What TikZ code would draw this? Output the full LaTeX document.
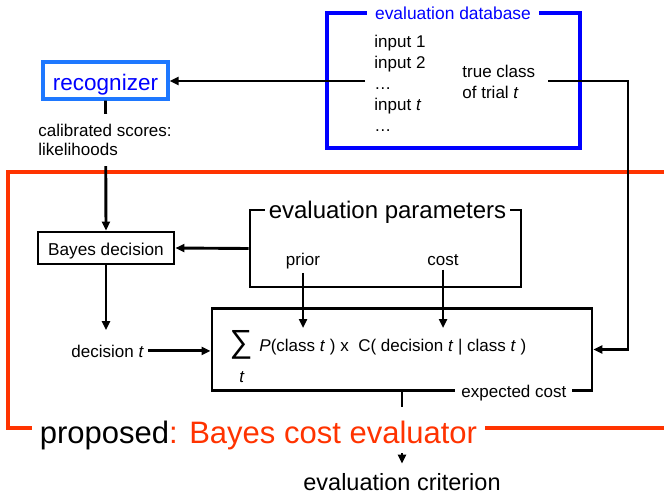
\documentclass[tikz,border=0pt]{standalone}
\usepackage{fontspec}
\setmainfont{Liberation Sans}
\usetikzlibrary{arrows.meta,calc}
\definecolor{dbblue}{RGB}{0,0,255}
\definecolor{recframe}{RGB}{30,120,255}
\definecolor{evalred}{RGB}{255,51,0}
\newcommand{\setfs}[1]{\fontsize{#1}{#1}\selectfont}
\begin{document}
\begin{tikzpicture}[x=1pt,y=-1pt,line width=2.9pt,
  txt/.style={font=\setfs{17},inner sep=0pt,anchor=base west},
  arr/.style={-{Triangle[length=9pt,width=8pt]}},
  plainbox/.style={draw,inner sep=0pt}]
\useasboundingbox (0,0) rectangle (664,496);

% outer evaluator frame (open to the right)
\draw[evalred,line width=3.2pt] (670,172) -- (8,172) -- (8,428) -- (670,428);

% evaluation database
\node[draw=dbblue,line width=3.2pt,minimum width=253,minimum height=135,inner sep=0pt] (db) at (453.5,80.5) {};
\node[txt] (in1) at (373,47) {input 1};
\node[txt] (in2) at (373,68) {input 2};
\node[txt] (dots1) at (373,89) {…};
\node[txt] (int) at (373,110) {input \textit{t}};
\node[txt] (dots2) at (373,131) {…};
\node[txt] (tc1) at (461,77) {true class};
\node[txt] (tc2) at (461,98) {of trial \textit{t}};
\coordinate (dbout) at (365,81);
\coordinate (tcout) at (548,81);

% recognizer
\node[draw=recframe,line width=3.2pt,text=dbblue,font=\setfs{22.5},minimum width=125,minimum height=37,
      text height=20pt,text depth=0pt,inner sep=0pt] (rec) at (105.5,80.5) {recognizer};

% Bayes decision
\node[plainbox,minimum width=136,minimum height=32,font=\setfs{17.2},text height=14pt,text depth=0pt] (bayes) at (106,248) {Bayes decision};

% evaluation parameters bracket
\node[plainbox,minimum width=271,minimum height=77] (params) at (385.5,248.5) {};
\node[txt,anchor=base,inner sep=3pt] (prior) at (303,265) {prior};
\node[txt,anchor=base,inner sep=3pt] (cost) at (443,265) {cost};

% expected cost box
\node[plainbox,minimum width=380,minimum height=82] (sum) at (402,349.5) {};
\node[font=\setfs{32},inner sep=0pt] (sigma) at (241,345) {∑};
\node[txt,anchor=base] (sumt) at (242,382) {\textit{t}};
\node[txt] (formula) at (258,351) {\textit{P}(class \textit{t} ) x\ \ C( decision \textit{t} | class \textit{t} )};
\coordinate (pin) at (303,328);
\coordinate (cin) at (443,328);

\node[txt,inner sep=3pt] (dec) at (67,357) {decision \textit{t}};
\node[font=\setfs{23.5},inner sep=0pt,anchor=base] (crit) at (402,490) {evaluation criterion};

% connectors
\draw[arr] (dbout) -- (rec.east |- dbout);
\draw[arr] (rec.south) -- (bayes.north);
\draw[arr] (params.west) -- (bayes.east);
\draw[arr] (prior) -- (pin);
\draw[arr] (cost) -- (cin);
\draw[arr,shorten >=10pt] (bayes.south) -- (bayes.south |- dec.north);
\draw[arr] (dec.east) -- (dec.east -| sum.west);
\draw[arr] (tcout) -- ++(80,0) |- (sum.east);
\draw[arr,shorten >=8pt] (sum.south) -- (crit.north);

% labels sitting on lines
\node[fill=white,text=dbblue,font=\setfs{17.4},inner xsep=8pt,inner ysep=3pt,anchor=base] (dbtitle) at (453,19) {evaluation database};
\node[fill=white,align=left,anchor=north west,inner xsep=0pt,inner ysep=10pt,font=\fontsize{17}{19}\selectfont] (calib) at (37,113) {calibrated scores:\\likelihoods};
\node[fill=white,font=\setfs{24},anchor=base,inner xsep=4pt,inner ysep=3pt] (ptitle) at (387.5,218) {evaluation parameters};
\node[txt,fill=white,inner xsep=6pt,inner ysep=3pt] (exp) at (454,397) {expected cost};
\node[fill=white,anchor=base,inner xsep=8pt,inner ysep=0pt,text height=36pt,text depth=10pt,font=\setfs{31}] (prop) at (258.5,443) {proposed\textcolor{evalred}{: Bayes cost evaluator}};
\end{tikzpicture}
\end{document}
